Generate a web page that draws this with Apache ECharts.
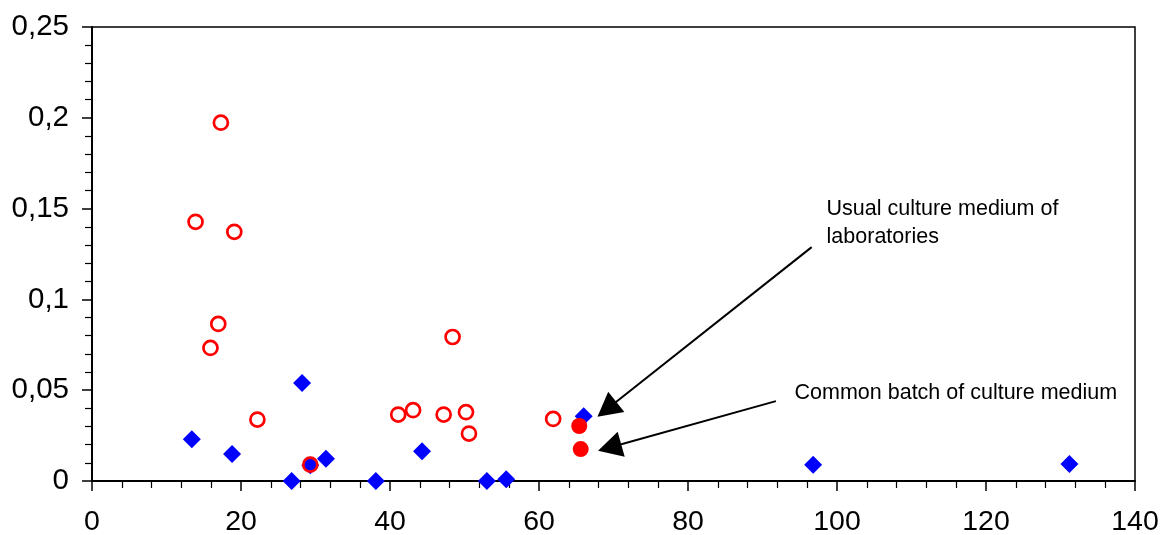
<!DOCTYPE html>
<html>
<head>
<meta charset="utf-8">
<script src="https://cdn.jsdelivr.net/npm/echarts@6/dist/echarts.min.js"></script>
<style>
  html, body { margin: 0; padding: 0; background: #fff; }
  #chart { width: 1161px; height: 535px; }
</style>
</head>
<body>
<div id="chart"></div>
<script>
// blue diamonds
const blueX = [13.4, 18.8, 28.2, 26.8, 29.3, 31.4, 38.1, 44.3, 53.0, 55.6, 66.0, 96.8, 131.2];
const blueY = [0.023, 0.0149, 0.054, 0, 0.0087, 0.0123, 0, 0.0164, 0, 0.001, 0.0357, 0.009, 0.0094];

// red open circles
const redX = [17.3, 13.9, 19.1, 16.95, 15.9, 22.2, 29.3, 41.1, 43.1, 47.2, 48.4, 50.2, 50.6, 61.9];
const redY = [0.1973, 0.1427, 0.1372, 0.0865, 0.0733, 0.0338, 0.009, 0.0366, 0.039, 0.0366, 0.0793, 0.0379, 0.0261, 0.0342];

// red filled circles (usual medium, common batch)
const fillX = [65.4, 65.6];
const fillY = [0.0303, 0.0176];

// annotation arrows: [from, to] in data units
const arrows = [
  [[96.6, 0.1288], [69.11, 0.0395]],
  [[91.8, 0.044], [69.48, 0.0184]]
];
// annotation texts, top-left anchor in data units
const notes = [
  { text: 'Usual culture medium of\nlaboratories', at: [98.6, 0.1575] },
  { text: 'Common batch of culture medium', at: [94.3, 0.056] }
];

const zip = (xs, ys) => xs.map((x, i) => [x, ys[i]]);
const font = '"Liberation Sans", Arial, sans-serif';

const chart = echarts.init(document.getElementById('chart'));

const option = {
  backgroundColor: '#fff',
  animation: false,
  grid: {
    left: 92, right: 26, top: 27, bottom: 54,
    show: true, borderColor: '#000', borderWidth: 1.5,
    outerBoundsMode: 'none'
  },
  xAxis: {
    type: 'value', min: 0, max: 140, interval: 20,
    axisLine: { onZero: false, lineStyle: { color: '#000', width: 2 } },
    axisTick: { inside: false, length: 10, lineStyle: { color: '#000', width: 1.5 } },
    minorTick: { show: true, splitNumber: 5, length: 7, lineStyle: { color: '#000', width: 1.2 } },
    axisLabel: { color: '#000', fontSize: 28.5, fontFamily: font, margin: 27 },
    splitLine: { show: false }
  },
  yAxis: {
    type: 'value', min: 0, max: 0.25, interval: 0.05,
    axisLine: { onZero: false, lineStyle: { color: '#000', width: 2 } },
    axisTick: { inside: false, length: 10, lineStyle: { color: '#000', width: 1.5 } },
    minorTick: { show: true, splitNumber: 5, length: 7, lineStyle: { color: '#000', width: 1.2 } },
    axisLabel: {
      color: '#000', fontSize: 29.5, fontFamily: font, margin: 23,
      formatter: v => String(+v.toFixed(2)).replace('.', ',')
    },
    splitLine: { show: false }
  },
  series: [
    {
      type: 'scatter',
      data: zip(blueX, blueY),
      symbol: 'diamond',
      symbolSize: [18, 18],
      itemStyle: { color: '#0000ff', opacity: 1 },
      z: 2
    },
    {
      type: 'scatter',
      data: zip(redX, redY),
      symbol: 'circle',
      symbolSize: 14,
      itemStyle: { color: 'rgba(0,0,0,0)', borderColor: '#ff0000', borderWidth: 2.7, opacity: 1 },
      z: 3
    },
    {
      type: 'scatter',
      data: zip(fillX, fillY),
      symbol: 'circle',
      symbolSize: 16,
      itemStyle: { color: '#ff0000', opacity: 1 },
      z: 4,
      markLine: {
        silent: true,
        symbol: ['none', 'triangle'],
        symbolSize: [26, 24],
        label: { show: false },
        lineStyle: { color: '#000', width: 2, type: 'solid' },
        data: arrows.map(a => [{ coord: a[0] }, { coord: a[1] }])
      }
    }
  ]
};

chart.setOption(option);

// place annotation text through the chart's own scales
chart.setOption({
  graphic: notes.map(n => {
    const p = chart.convertToPixel({ gridIndex: 0 }, n.at);
    return {
      type: 'text',
      x: p[0], y: p[1],
      style: {
        text: n.text,
        fill: '#000',
        font: '21.5px ' + font,
        lineHeight: 28,
        verticalAlign: 'top',
        align: 'left'
      }
    };
  })
});
</script>
</body>
</html>
